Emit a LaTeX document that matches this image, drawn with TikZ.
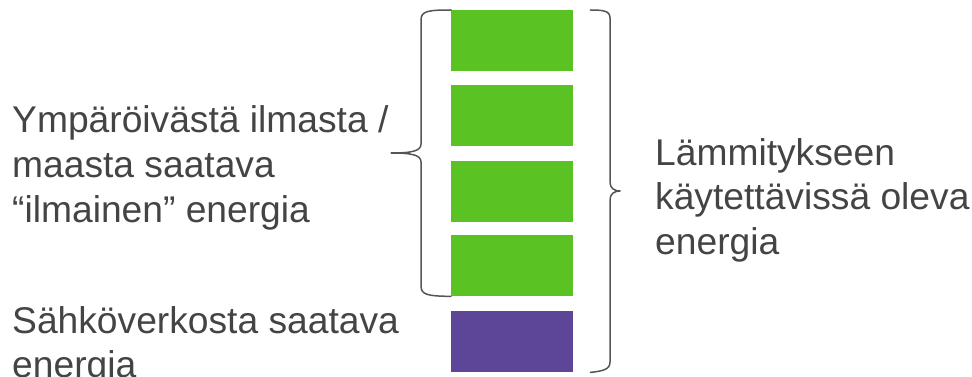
\documentclass[tikz,border=0pt]{standalone}
\usepackage{fontspec}
\setmainfont{Liberation Sans}
\definecolor{grn}{HTML}{5BC223}
\definecolor{prp}{HTML}{5D4698}
\definecolor{txt}{HTML}{444444}
\definecolor{brc}{HTML}{555555}
\begin{document}
\begin{tikzpicture}[x=1pt,y=-1pt,
  blk/.style={inner sep=0pt, minimum width=122pt, minimum height=61pt, anchor=north west},
  lbl/.style={inner sep=0pt, anchor=base west, align=left, text=txt, font=\fontsize{37.2}{44.5}\selectfont},
  brace/.style={draw=brc, line width=1.5pt, line cap=round, line join=round}]
\useasboundingbox (0,0) rectangle (972,377);
\node[blk, fill=grn] (b1) at (451,10) {};
\node[blk, fill=grn] (b2) at (451,85) {};
\node[blk, fill=grn] (b3) at (451,161) {};
\node[blk, fill=grn] (b4) at (451,235) {};
\node[blk, fill=prp] (b5) at (451,311) {};
\node[lbl] (free) at (12,222) {Ympäröivästä ilmasta /\\maasta saatava\\“ilmainen” energia};
\node[lbl] (grid) at (12,377.5) {Sähköverkosta saatava\\energia};
\node[lbl] (heat) at (655,254) {Lämmitykseen\\käytettävissä oleva\\energia};
\coordinate (lt) at (b1.north west);
\coordinate (lb) at (b4.south west);
\coordinate (rt) at ([xshift=17pt]b1.north east);
\coordinate (rb) at ([xshift=17pt]b5.south east);
\draw[brace] (lt) .. controls (428,10) and (421,11) .. (421,20) -- (421,144)
  .. controls (421,151) and (412,153) .. (391,153)
  .. controls (412,153) and (421,155) .. (421,162) -- (421,286)
  .. controls (421,295) and (428,296) .. (lb);
\draw[brace] (rt) .. controls (604,10) and (610,11) .. (610,18) -- (610,182)
  .. controls (610,188) and (614,191) .. (620,191)
  .. controls (614,191) and (610,194) .. (610,200) -- (610,362)
  .. controls (610,369) and (604,371) .. (rb);
\end{tikzpicture}
\end{document}
